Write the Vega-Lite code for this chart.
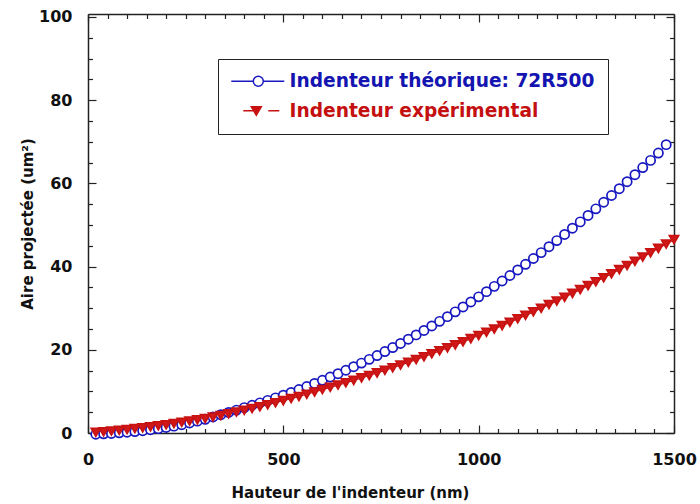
{
  "$schema": "https://vega.github.io/schema/vega-lite/v6.json",
  "width": 586,
  "height": 419,
  "autosize": {"type": "none"},
  "padding": {"left": 88, "top": 14, "right": 26, "bottom": 71},
  "background": "white",
  "config": {
    "view": {"stroke": null},
    "axis": {
      "grid": false,
      "domainColor": "#222222",
      "domainWidth": 1.5,
      "tickColor": "#222222",
      "tickWidth": 1.2,
      "labelFont": "DejaVu Sans",
      "labelFontWeight": "bold",
      "labelFontSize": 16,
      "labelColor": "#111111",
      "titleFont": "DejaVu Sans",
      "titleFontWeight": "bold",
      "titleFontSize": 15,
      "titleColor": "#111111",
      "labelOverlap": false,
      "labelFlush": false
    }
  },
  "datasets": {
    "curves": [
      {"h": 20, "A": -0.3, "s": "Indenteur théorique: 72R500"},
      {"h": 40, "A": -0.2, "s": "Indenteur théorique: 72R500"},
      {"h": 60, "A": -0.1, "s": "Indenteur théorique: 72R500"},
      {"h": 80, "A": 0.05, "s": "Indenteur théorique: 72R500"},
      {"h": 100, "A": 0.2, "s": "Indenteur théorique: 72R500"},
      {"h": 120, "A": 0.35, "s": "Indenteur théorique: 72R500"},
      {"h": 140, "A": 0.55, "s": "Indenteur théorique: 72R500"},
      {"h": 160, "A": 0.8, "s": "Indenteur théorique: 72R500"},
      {"h": 180, "A": 1.05, "s": "Indenteur théorique: 72R500"},
      {"h": 200, "A": 1.35, "s": "Indenteur théorique: 72R500"},
      {"h": 220, "A": 1.65, "s": "Indenteur théorique: 72R500"},
      {"h": 240, "A": 2.0, "s": "Indenteur théorique: 72R500"},
      {"h": 260, "A": 2.4, "s": "Indenteur théorique: 72R500"},
      {"h": 280, "A": 2.85, "s": "Indenteur théorique: 72R500"},
      {"h": 300, "A": 3.3, "s": "Indenteur théorique: 72R500"},
      {"h": 320, "A": 3.85, "s": "Indenteur théorique: 72R500"},
      {"h": 340, "A": 4.4, "s": "Indenteur théorique: 72R500"},
      {"h": 360, "A": 4.95, "s": "Indenteur théorique: 72R500"},
      {"h": 380, "A": 5.5, "s": "Indenteur théorique: 72R500"},
      {"h": 400, "A": 6.1, "s": "Indenteur théorique: 72R500"},
      {"h": 420, "A": 6.67, "s": "Indenteur théorique: 72R500"},
      {"h": 440, "A": 7.24, "s": "Indenteur théorique: 72R500"},
      {"h": 460, "A": 7.84, "s": "Indenteur théorique: 72R500"},
      {"h": 480, "A": 8.45, "s": "Indenteur théorique: 72R500"},
      {"h": 500, "A": 9.1, "s": "Indenteur théorique: 72R500"},
      {"h": 520, "A": 9.76, "s": "Indenteur théorique: 72R500"},
      {"h": 540, "A": 10.45, "s": "Indenteur théorique: 72R500"},
      {"h": 560, "A": 11.17, "s": "Indenteur théorique: 72R500"},
      {"h": 580, "A": 11.9, "s": "Indenteur théorique: 72R500"},
      {"h": 600, "A": 12.66, "s": "Indenteur théorique: 72R500"},
      {"h": 620, "A": 13.44, "s": "Indenteur théorique: 72R500"},
      {"h": 640, "A": 14.25, "s": "Indenteur théorique: 72R500"},
      {"h": 660, "A": 15.08, "s": "Indenteur théorique: 72R500"},
      {"h": 680, "A": 15.93, "s": "Indenteur théorique: 72R500"},
      {"h": 700, "A": 16.8, "s": "Indenteur théorique: 72R500"},
      {"h": 720, "A": 17.7, "s": "Indenteur théorique: 72R500"},
      {"h": 740, "A": 18.62, "s": "Indenteur théorique: 72R500"},
      {"h": 760, "A": 19.57, "s": "Indenteur théorique: 72R500"},
      {"h": 780, "A": 20.54, "s": "Indenteur théorique: 72R500"},
      {"h": 800, "A": 21.53, "s": "Indenteur théorique: 72R500"},
      {"h": 820, "A": 22.54, "s": "Indenteur théorique: 72R500"},
      {"h": 840, "A": 23.58, "s": "Indenteur théorique: 72R500"},
      {"h": 860, "A": 24.64, "s": "Indenteur théorique: 72R500"},
      {"h": 880, "A": 25.73, "s": "Indenteur théorique: 72R500"},
      {"h": 900, "A": 26.83, "s": "Indenteur théorique: 72R500"},
      {"h": 920, "A": 27.96, "s": "Indenteur théorique: 72R500"},
      {"h": 940, "A": 29.12, "s": "Indenteur théorique: 72R500"},
      {"h": 960, "A": 30.3, "s": "Indenteur théorique: 72R500"},
      {"h": 980, "A": 31.5, "s": "Indenteur théorique: 72R500"},
      {"h": 1000, "A": 32.72, "s": "Indenteur théorique: 72R500"},
      {"h": 1020, "A": 33.97, "s": "Indenteur théorique: 72R500"},
      {"h": 1040, "A": 35.24, "s": "Indenteur théorique: 72R500"},
      {"h": 1060, "A": 36.53, "s": "Indenteur théorique: 72R500"},
      {"h": 1080, "A": 37.85, "s": "Indenteur théorique: 72R500"},
      {"h": 1100, "A": 39.19, "s": "Indenteur théorique: 72R500"},
      {"h": 1120, "A": 40.55, "s": "Indenteur théorique: 72R500"},
      {"h": 1140, "A": 41.94, "s": "Indenteur théorique: 72R500"},
      {"h": 1160, "A": 43.35, "s": "Indenteur théorique: 72R500"},
      {"h": 1180, "A": 44.78, "s": "Indenteur théorique: 72R500"},
      {"h": 1200, "A": 46.24, "s": "Indenteur théorique: 72R500"},
      {"h": 1220, "A": 47.72, "s": "Indenteur théorique: 72R500"},
      {"h": 1240, "A": 49.22, "s": "Indenteur théorique: 72R500"},
      {"h": 1260, "A": 50.74, "s": "Indenteur théorique: 72R500"},
      {"h": 1280, "A": 52.29, "s": "Indenteur théorique: 72R500"},
      {"h": 1300, "A": 53.87, "s": "Indenteur théorique: 72R500"},
      {"h": 1320, "A": 55.46, "s": "Indenteur théorique: 72R500"},
      {"h": 1340, "A": 57.08, "s": "Indenteur théorique: 72R500"},
      {"h": 1360, "A": 58.72, "s": "Indenteur théorique: 72R500"},
      {"h": 1380, "A": 60.39, "s": "Indenteur théorique: 72R500"},
      {"h": 1400, "A": 62.08, "s": "Indenteur théorique: 72R500"},
      {"h": 1420, "A": 63.79, "s": "Indenteur théorique: 72R500"},
      {"h": 1440, "A": 65.52, "s": "Indenteur théorique: 72R500"},
      {"h": 1460, "A": 67.28, "s": "Indenteur théorique: 72R500"},
      {"h": 1480, "A": 69.3, "s": "Indenteur théorique: 72R500"},
      {"h": 20, "A": 0.14, "s": "Indenteur expérimental"},
      {"h": 40, "A": 0.29, "s": "Indenteur expérimental"},
      {"h": 60, "A": 0.46, "s": "Indenteur expérimental"},
      {"h": 80, "A": 0.64, "s": "Indenteur expérimental"},
      {"h": 100, "A": 0.83, "s": "Indenteur expérimental"},
      {"h": 120, "A": 1.04, "s": "Indenteur expérimental"},
      {"h": 140, "A": 1.26, "s": "Indenteur expérimental"},
      {"h": 160, "A": 1.49, "s": "Indenteur expérimental"},
      {"h": 180, "A": 1.73, "s": "Indenteur expérimental"},
      {"h": 200, "A": 1.99, "s": "Indenteur expérimental"},
      {"h": 220, "A": 2.26, "s": "Indenteur expérimental"},
      {"h": 240, "A": 2.54, "s": "Indenteur expérimental"},
      {"h": 260, "A": 2.84, "s": "Indenteur expérimental"},
      {"h": 280, "A": 3.15, "s": "Indenteur expérimental"},
      {"h": 300, "A": 3.47, "s": "Indenteur expérimental"},
      {"h": 320, "A": 3.83, "s": "Indenteur expérimental"},
      {"h": 340, "A": 4.21, "s": "Indenteur expérimental"},
      {"h": 360, "A": 4.6, "s": "Indenteur expérimental"},
      {"h": 380, "A": 5.01, "s": "Indenteur expérimental"},
      {"h": 400, "A": 5.43, "s": "Indenteur expérimental"},
      {"h": 420, "A": 5.86, "s": "Indenteur expérimental"},
      {"h": 440, "A": 6.31, "s": "Indenteur expérimental"},
      {"h": 460, "A": 6.78, "s": "Indenteur expérimental"},
      {"h": 480, "A": 7.26, "s": "Indenteur expérimental"},
      {"h": 500, "A": 7.76, "s": "Indenteur expérimental"},
      {"h": 520, "A": 8.26, "s": "Indenteur expérimental"},
      {"h": 540, "A": 8.78, "s": "Indenteur expérimental"},
      {"h": 560, "A": 9.32, "s": "Indenteur expérimental"},
      {"h": 580, "A": 9.86, "s": "Indenteur expérimental"},
      {"h": 600, "A": 10.43, "s": "Indenteur expérimental"},
      {"h": 620, "A": 10.96, "s": "Indenteur expérimental"},
      {"h": 640, "A": 11.51, "s": "Indenteur expérimental"},
      {"h": 660, "A": 12.07, "s": "Indenteur expérimental"},
      {"h": 680, "A": 12.63, "s": "Indenteur expérimental"},
      {"h": 700, "A": 13.23, "s": "Indenteur expérimental"},
      {"h": 720, "A": 13.82, "s": "Indenteur expérimental"},
      {"h": 740, "A": 14.43, "s": "Indenteur expérimental"},
      {"h": 760, "A": 15.05, "s": "Indenteur expérimental"},
      {"h": 780, "A": 15.68, "s": "Indenteur expérimental"},
      {"h": 800, "A": 16.32, "s": "Indenteur expérimental"},
      {"h": 820, "A": 16.97, "s": "Indenteur expérimental"},
      {"h": 840, "A": 17.64, "s": "Indenteur expérimental"},
      {"h": 860, "A": 18.33, "s": "Indenteur expérimental"},
      {"h": 880, "A": 19.01, "s": "Indenteur expérimental"},
      {"h": 900, "A": 19.73, "s": "Indenteur expérimental"},
      {"h": 920, "A": 20.44, "s": "Indenteur expérimental"},
      {"h": 940, "A": 21.16, "s": "Indenteur expérimental"},
      {"h": 960, "A": 21.9, "s": "Indenteur expérimental"},
      {"h": 980, "A": 22.66, "s": "Indenteur expérimental"},
      {"h": 1000, "A": 23.42, "s": "Indenteur expérimental"},
      {"h": 1020, "A": 24.2, "s": "Indenteur expérimental"},
      {"h": 1040, "A": 24.99, "s": "Indenteur expérimental"},
      {"h": 1060, "A": 25.79, "s": "Indenteur expérimental"},
      {"h": 1080, "A": 26.6, "s": "Indenteur expérimental"},
      {"h": 1100, "A": 27.43, "s": "Indenteur expérimental"},
      {"h": 1120, "A": 28.26, "s": "Indenteur expérimental"},
      {"h": 1140, "A": 29.12, "s": "Indenteur expérimental"},
      {"h": 1160, "A": 29.98, "s": "Indenteur expérimental"},
      {"h": 1180, "A": 30.85, "s": "Indenteur expérimental"},
      {"h": 1200, "A": 31.73, "s": "Indenteur expérimental"},
      {"h": 1220, "A": 32.63, "s": "Indenteur expérimental"},
      {"h": 1240, "A": 33.54, "s": "Indenteur expérimental"},
      {"h": 1260, "A": 34.46, "s": "Indenteur expérimental"},
      {"h": 1280, "A": 35.4, "s": "Indenteur expérimental"},
      {"h": 1300, "A": 36.35, "s": "Indenteur expérimental"},
      {"h": 1320, "A": 37.3, "s": "Indenteur expérimental"},
      {"h": 1340, "A": 38.27, "s": "Indenteur expérimental"},
      {"h": 1360, "A": 39.25, "s": "Indenteur expérimental"},
      {"h": 1380, "A": 40.25, "s": "Indenteur expérimental"},
      {"h": 1400, "A": 41.26, "s": "Indenteur expérimental"},
      {"h": 1420, "A": 42.27, "s": "Indenteur expérimental"},
      {"h": 1440, "A": 43.3, "s": "Indenteur expérimental"},
      {"h": 1460, "A": 44.35, "s": "Indenteur expérimental"},
      {"h": 1480, "A": 45.4, "s": "Indenteur expérimental"},
      {"h": 1500, "A": 46.47, "s": "Indenteur expérimental"}
    ]
  },
  "data": {"name": "curves"},
  "layer": [
    {
      "mark": {"type": "line", "strokeWidth": 1.2},
      "encoding": {
        "x": {
          "field": "h", "type": "quantitative",
          "scale": {"domain": [0, 1500], "nice": false, "zero": false},
          "axis": {
            "orient": "bottom",
            "format": "d",
            "values": [0,50,100,150,200,250,300,350,400,450,500,550,600,650,700,750,800,850,900,950,1000,1050,1100,1150,1200,1250,1300,1350,1400,1450,1500],
            "labelExpr": "datum.value % 500 === 0 ? datum.label : ''",
            "tickSize": {"condition": {"test": "datum.value % 500 === 0", "value": -8}, "value": -4.5},
            "labelPadding": 26,
            "title": "Hauteur de l'indenteur (nm)",
            "titlePadding": 15,
            "titleX": 262
          }
        },
        "y": {
          "field": "A", "type": "quantitative",
          "scale": {"domain": [0, 100.7], "nice": false, "zero": false},
          "axis": {
            "orient": "left",
            "values": [0,5,10,15,20,25,30,35,40,45,50,55,60,65,70,75,80,85,90,95,100],
            "labelExpr": "datum.value % 20 === 0 ? datum.label : ''",
            "tickSize": {"condition": {"test": "datum.value % 20 === 0", "value": -8}, "value": -4.5},
            "labelPadding": 24,
            "title": "Aire projectée (um²)",
            "titlePadding": 3
          }
        },
        "stroke": {
          "field": "s", "type": "nominal",
          "scale": {"domain": ["Indenteur théorique: 72R500", "Indenteur expérimental"], "range": ["#1818c0", "#c81212"]},
          "legend": {
            "orient": "none",
            "legendX": 130,
            "legendY": 45,
            "title": null,
            "strokeColor": "#222222",
            "fillColor": "white",
            "padding": 13,
            "labelFont": "DejaVu Sans",
            "labelFontWeight": "bold",
            "labelFontSize": 18.6,
            "labelOffset": 22,
            "labelLimit": 450,
            "symbolSize": 100,
            "symbolOffset": 18,
            "rowPadding": 10.5,
            "encode": {
              "symbols": {
                "update": {
                  "shape": {"signal": "datum.value === 'Indenteur expérimental' ? 'M-3,0L-0.4,0M-1.4,-0.8L0.6,-0.8L-0.4,0.9ZM2,0L4.2,0' : 'M-5.4,0L-1,0M1,0L5.2,0M-1,0A1,1,0,1,0,1,0A1,1,0,1,0,-1,0Z'"},
                  "fill": {"signal": "datum.value === 'Indenteur expérimental' ? '#c81212' : '#ffffff'"},
                  "strokeWidth": {"value": 1.5},
                  "opacity": {"value": 1}
                }
              },
              "labels": {
                "update": {
                  "fill": {"signal": "datum.value === 'Indenteur expérimental' ? '#c41010' : '#1414b0'"}
                }
              }
            }
          }
        }
      }
    },
    {
      "mark": {"type": "point", "filled": true, "opacity": 1, "strokeWidth": 1.7, "size": 85},
      "encoding": {
        "x": {
          "field": "h", "type": "quantitative",
          "axis": {
            "orient": "top",
            "values": [0,50,100,150,200,250,300,350,400,450,500,550,600,650,700,750,800,850,900,950,1000,1050,1100,1150,1200,1250,1300,1350,1400,1450,1500],
            "labels": false,
            "tickSize": {"condition": {"test": "datum.value % 500 === 0", "value": -8}, "value": -4.5},
            "title": null
          }
        },
        "y": {
          "field": "A", "type": "quantitative",
          "axis": {
            "orient": "right",
            "values": [0,5,10,15,20,25,30,35,40,45,50,55,60,65,70,75,80,85,90,95,100],
            "labels": false,
            "tickSize": {"condition": {"test": "datum.value % 20 === 0", "value": -8}, "value": -4.5},
            "title": null
          }
        },
        "stroke": {"field": "s", "type": "nominal", "legend": null},
        "fill": {"condition": {"test": "datum.s === 'Indenteur expérimental'", "value": "#d01818"}, "value": "#ffffff"},
        "shape": {"condition": {"test": "datum.s === 'Indenteur expérimental'", "value": "triangle-down"}, "value": "circle"}
      }
    }
  ],
  "resolve": {"axis": {"x": "independent", "y": "independent"}}
}
